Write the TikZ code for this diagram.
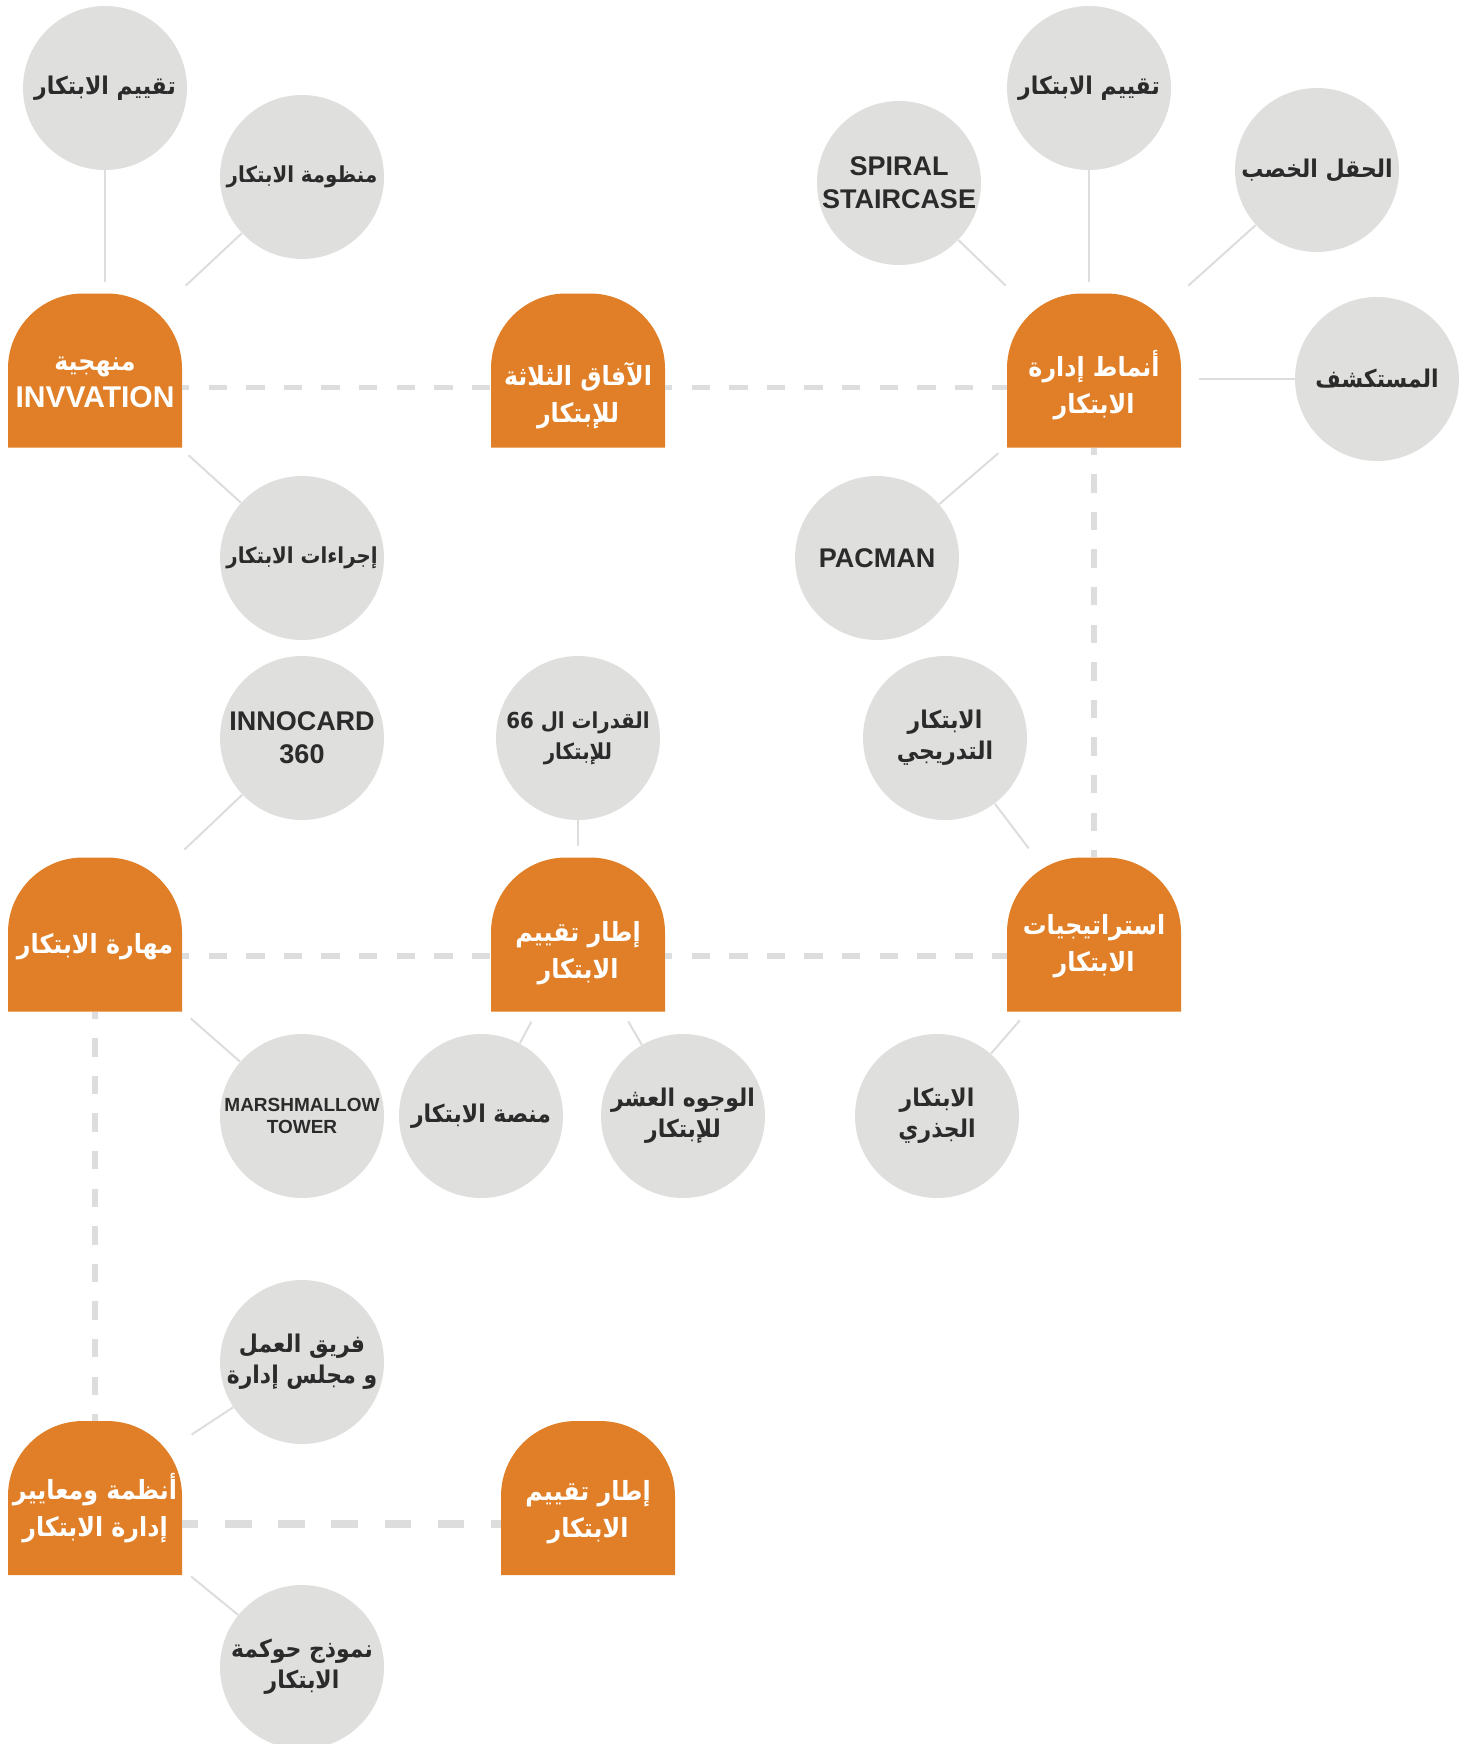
\documentclass[tikz,border=0pt]{standalone}
\usepackage{fontspec}
\setmainfont{Liberation Sans}
\newfontfamily\arabicfont[Script=Arabic, FakeStretch=0.9]{DejaVu Sans}
\TeXXeTstate=1
\newcommand{\rtl}[1]{\beginR#1\endR}
\definecolor{stageorange}{HTML}{E07F27}
\definecolor{ideagray}{HTML}{DFDFDE}
\definecolor{linkgray}{HTML}{DDDDDD}
\definecolor{inkgray}{HTML}{2B2B2B}

\begin{document}
\begin{tikzpicture}%
	[x=0.5pt, y=0.5pt,
	idea/.style={circle, fill=ideagray, minimum size=82pt, inner sep=0pt, align=center, text=inkgray},
	arabictext/.style={font=\arabicfont\bfseries\fontsize{12.2}{15.5}\selectfont},
	smallarabic/.style={font=\arabicfont\bfseries\fontsize{11}{15.5}\selectfont},
	latintext/.style={font=\bfseries\fontsize{13.5}{16.5}\selectfont},
	stage/.style={minimum width=87pt, minimum height=77pt, inner sep=0pt,
		path picture={\fill[stageorange] (path picture bounding box.south west)
			-- ([yshift=-37.5pt]path picture bounding box.north west)
			arc[start angle=180, end angle=90, radius=37.5pt]
			-- ([xshift=-37.5pt]path picture bounding box.north east)
			arc[start angle=90, end angle=0, radius=37.5pt]
			-- (path picture bounding box.south east) -- cycle;}},
	stagetext/.style={align=center, text=white, font=\arabicfont\bfseries\fontsize{13.2}{18.4}\selectfont},
	link/.style={color=linkgray, line width=1pt, shorten >=5.5pt},
	trail/.style={color=linkgray, line width=2.7pt, dash pattern=on 9.2pt off 9.6pt, dash phase=5.7pt},
	maintrail/.style={color=linkgray, line width=3.6pt, dash pattern=on 13.3pt off 13.3pt, dash phase=5.3pt}]
%
\useasboundingbox (0,0) rectangle (1477,-1744);
%%
%% The stages
%%
\node[stage] (method) at (95,-370.5) {};
\node[stage] (horizons) at (578,-370.5) {};
\node[stage] (modes) at (1094,-370.5) {};
\node[stage] (skill) at (95,-934.5) {};
\node[stage] (assess) at (578,-934.5) {};
\node[stage] (strategy) at (1094,-934.5) {};
\node[stage] (systems) at (95,-1498) {};
\node[stage] (assessb) at (588,-1498) {};
%%
%% Drawing the dashed trails
%%
\draw[trail] ([yshift=-8.5pt]method.east) -- ([yshift=-8.5pt]horizons.west);
\draw[trail] ([yshift=-8.5pt]horizons.east) -- ([yshift=-8.5pt]modes.west);
\draw[trail] ([yshift=-10.75pt]skill.east) -- ([yshift=-10.75pt]assess.west);
\draw[trail] ([yshift=-10.75pt]assess.east) -- ([yshift=-10.75pt]strategy.west);
\draw[trail] (modes.south) -- (strategy.north);
\draw[trail] (skill.south) -- (systems.north);
\draw[maintrail] ([yshift=-13pt]systems.east) -- ([yshift=-13pt]assessb.west);
%%
%% The stage labels
%%
\node[stagetext] (methodlabel) at ([yshift=-6pt]method) {\rtl{منهجية}\\{\rmfamily\fontsize{15}{18.4}\selectfont INVVATION}};
\node[stagetext] (horizonslabel) at ([yshift=-12.5pt]horizons) {\rtl{الآفاق الثلاثة}\\\rtl{للإبتكار}};
\node[stagetext] (modeslabel) at ([yshift=-7.5pt]modes) {\rtl{أنماط إدارة}\\\rtl{الابتكار}};
\node[stagetext] (skilllabel) at ([yshift=-6pt]skill) {\rtl{مهارة الابتكار}};
\node[stagetext] (assesslabel) at ([yshift=-9.3pt]assess) {\rtl{إطار تقييم}\\\rtl{الابتكار}};
\node[stagetext] (strategylabel) at ([yshift=-6pt]strategy) {\rtl{استراتيجيات}\\\rtl{الابتكار}};
\node[stagetext] (systemslabel) at ([yshift=-5pt]systems) {\rtl{أنظمة ومعايير}\\\rtl{إدارة الابتكار}};
\node[stagetext] (assessblabel) at ([yshift=-7pt]assessb) {\rtl{إطار تقييم}\\\rtl{الابتكار}};
%%
%% The ideas round the stages
%%
\node[idea, arabictext] (evalA) at (105,-88) {\rtl{تقييم الابتكار}};
\node[idea, smallarabic] (system) at (302,-177) {\rtl{منظومة الابتكار}};
\node[idea, smallarabic] (procedure) at (302,-558) {\rtl{إجراءات الابتكار}};
\node[idea, latintext] (innocard) at (302,-738) {INNOCARD\\360};
\node[idea, smallarabic] (abilities) at (578,-738) {\rtl{القدرات ال 66}\\\rtl{للإبتكار}};
\node[idea, latintext] (spiral) at (899,-183) {SPIRAL\\STAIRCASE};
\node[idea, arabictext] (evalB) at (1089,-88) {\rtl{تقييم الابتكار}};
\node[idea, arabictext] (fertile) at (1317,-170) {\rtl{الحقل الخصب}};
\node[idea, arabictext] (explorer) at (1377,-379) {\rtl{المستكشف}};
\node[idea, latintext] (pacman) at (877,-558) {PACMAN};
\node[idea, arabictext] (gradual) at (945,-738) {\rtl{الابتكار}\\\rtl{التدريجي}};
\node[idea, font=\bfseries\fontsize{9.5}{11}\selectfont] (tower) at (302,-1116) {MARSHMALLOW\\TOWER};
\node[idea, arabictext] (platform) at (481,-1116) {\rtl{منصة الابتكار}};
\node[idea, arabictext] (faces) at (683,-1116) {\rtl{الوجوه العشر}\\\rtl{للإبتكار}};
\node[idea, arabictext] (radical) at (937,-1116) {\rtl{الابتكار}\\\rtl{الجذري}};
\node[idea, arabictext] (team) at (302,-1362) {\rtl{فريق العمل}\\\rtl{و مجلس إدارة}};
\node[idea, arabictext] (governance) at (302,-1667) {\rtl{نموذج حوكمة}\\\rtl{الابتكار}};
%%
%% Drawing the links
%%
\draw[link] (evalA) -- (evalA |- method.north);
\draw[link] (system) -- (method);
\draw[link] (procedure) -- (method);
\draw[link] (innocard) -- (skill);
\draw[link] (tower) -- (skill);
\draw[link] (abilities) -- (abilities |- assess.north);
\draw[link] (platform) -- (assess);
\draw[link] (faces) -- (assess);
\draw[link] (gradual) -- (strategy);
\draw[link] (radical) -- (strategy);
\draw[link] (spiral) -- (modes);
\draw[link] (evalB) -- (evalB |- modes.north);
\draw[link] (fertile) -- (modes);
\draw[link, shorten >=9pt] (explorer) -- (explorer -| modes.east);
\draw[link] (pacman) -- (modes);
\draw[link] (team) -- (systems);
\draw[link] (governance) -- (systems);
\end{tikzpicture}
\end{document}
